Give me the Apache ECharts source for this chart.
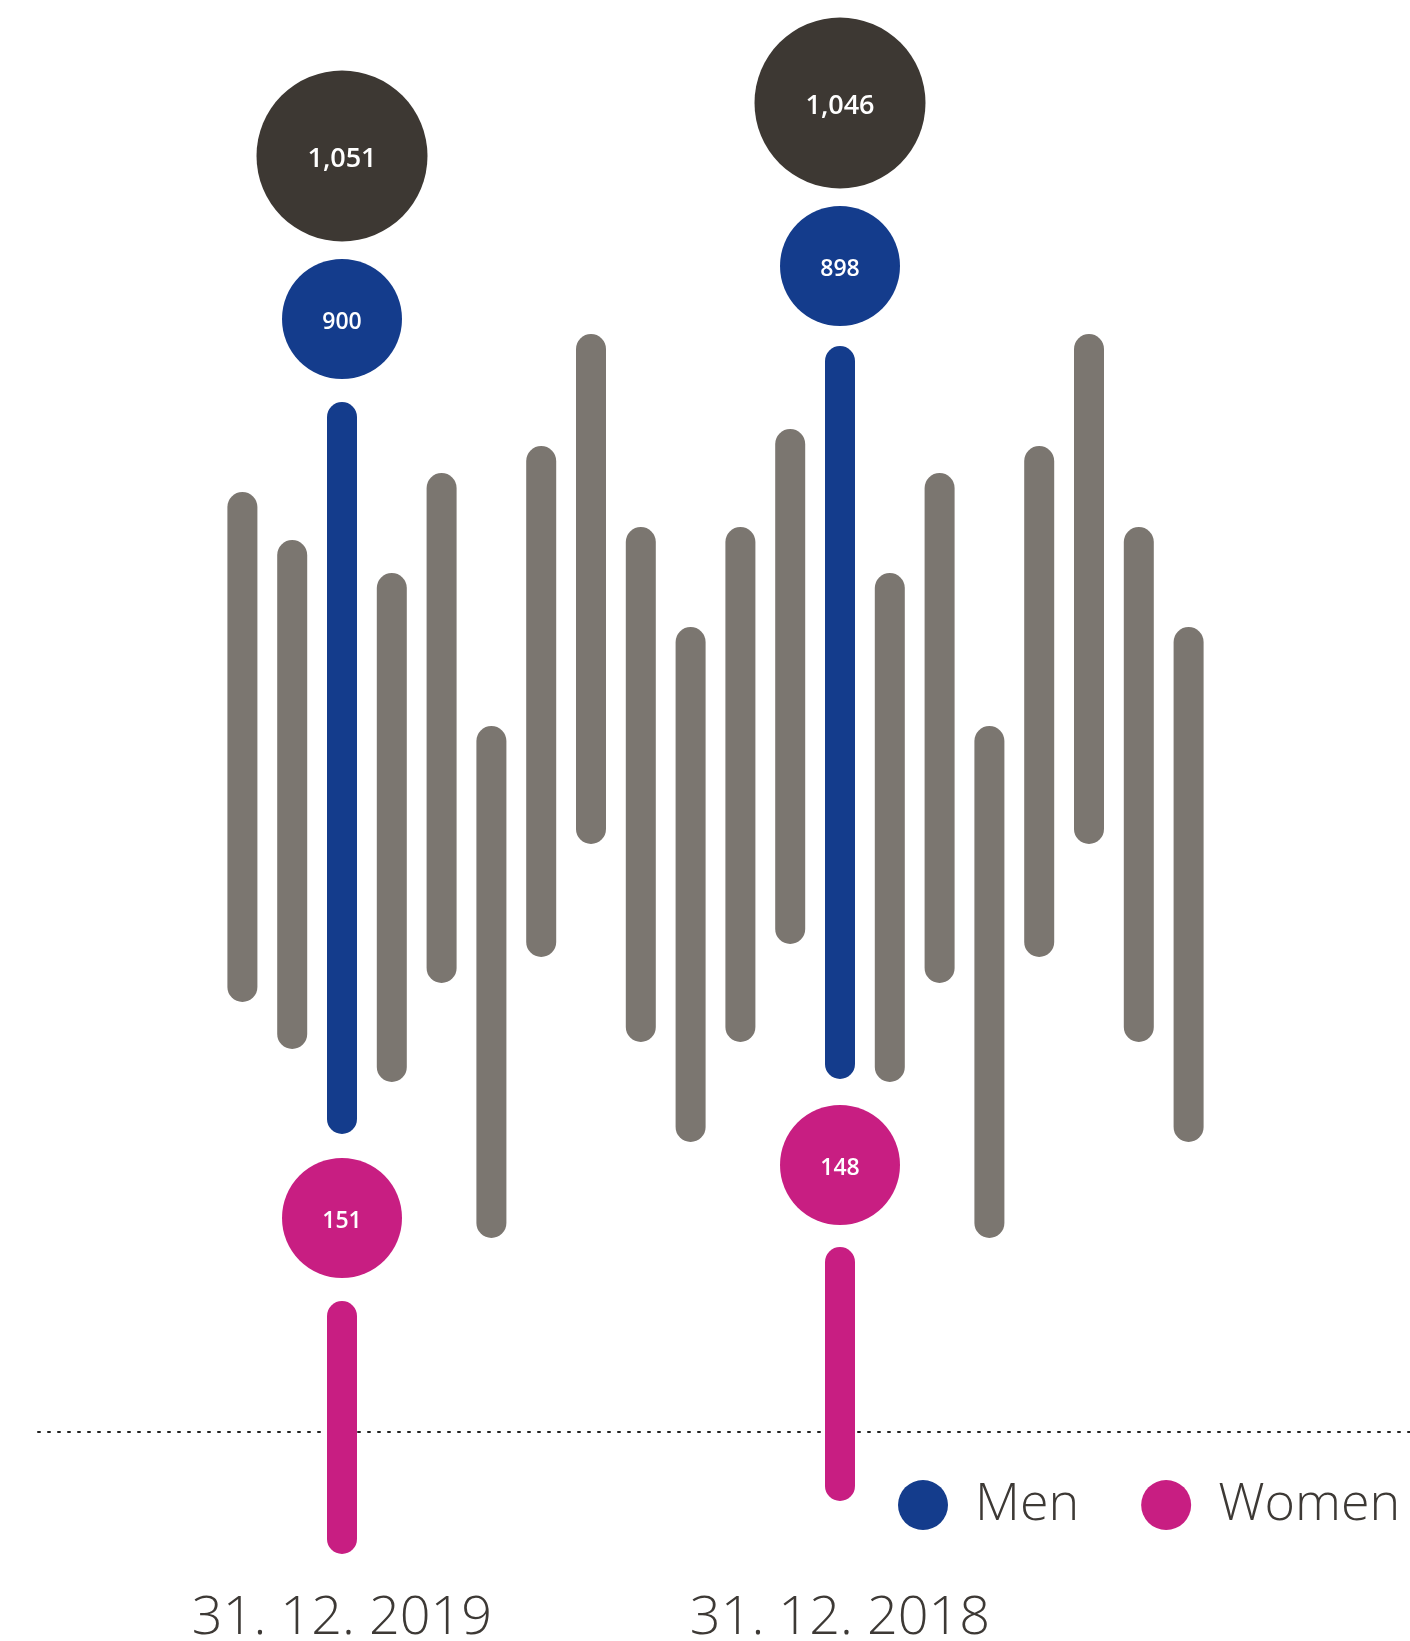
<!DOCTYPE html>
<html>
<head>
<meta charset="utf-8">
<title>Employees</title>
<script src="https://cdn.jsdelivr.net/npm/echarts@6.0.0/dist/echarts.min.js"></script>
<style>
  html, body { margin: 0; padding: 0; background: #fff; }
  #chart { width: 1410px; height: 1641px; }
</style>
</head>
<body>
<div id="chart"></div>
<script>
// slots along the x axis, the two dated columns sit at slot 2 and 12
const slotCount = 20
const dateLabels = ['31. 12. 2019', '31. 12. 2018']
const dateSlots = [2, 12]

// head counts
const totals = [1051, 1046]
const men = [900, 898]
const women = [151, 148]

// vertical placement (axis runs top -> bottom)
const totalY = [156, 103]
const menY = [319, 266]
const womenY = [1218, 1165]
const menBarTop = [402, 346]
const menBarBottom = [1134, 1079]
const womenBarTop = [1301, 1247]
const womenBarBottom = [1554, 1501]

// decorative grey bars, null where a dated column stands
const greyTop = [492, 540, null, 573, 473, 726, 446, 334, 527, 627, 527, 429, null, 573, 473, 726, 446, 334, 527, 627]
const greyBottom = [1002, 1049, null, 1082, 983, 1238, 957, 844, 1042, 1142, 1042, 944, null, 1082, 983, 1238, 957, 844, 1042, 1142]

const GREY = '#7b7670'
const BLUE = '#143c8c'
const PINK = '#c81e82'
const DARK = '#3d3833'
const TEXT = '#3d3935'
const LABEL_FONT = "'Open Sans', sans-serif"

const categories = []
for (let i = 0; i < slotCount; i++) {
  const k = dateSlots.indexOf(i)
  categories.push(k >= 0 ? dateLabels[k] : '')
}

const greyData = []
greyTop.forEach((t, i) => {
  if (t != null) greyData.push([i, t, greyBottom[i]])
})
const menBars = dateSlots.map((s, i) => [s, menBarTop[i], menBarBottom[i]])
const womenBars = dateSlots.map((s, i) => [s, womenBarTop[i], womenBarBottom[i]])
const totalPts = dateSlots.map((s, i) => [s, totalY[i], totals[i]])
const menPts = dateSlots.map((s, i) => [s, menY[i], men[i]])
const womenPts = dateSlots.map((s, i) => [s, womenY[i], women[i]])

// rounded vertical bar between two values
function pillBar(color) {
  return function (params, api) {
    const p1 = api.coord([api.value(0), api.value(1)])
    const p2 = api.coord([api.value(0), api.value(2)])
    const w = 30
    return {
      type: 'rect',
      shape: { x: p1[0] - w / 2, y: p1[1], width: w, height: p2[1] - p1[1], r: w / 2 },
      style: { fill: color },
    }
  }
}

function bubble(name, data, size, color, fontSize) {
  return {
    name: name,
    type: 'scatter',
    xAxisIndex: 0,
    yAxisIndex: 0,
    data: data,
    symbol: 'circle',
    symbolSize: size,
    itemStyle: { color: color, opacity: 1 },
    label: {
      show: true,
      position: 'inside',
      offset: [0, 3],
      color: '#fff',
      fontSize: fontSize,
      fontWeight: 600,
      fontFamily: 'Open Sans',
      formatter: (p) => p.value[2].toLocaleString('en-US'),
    },
    z: 3,
  }
}

const chart = echarts.init(document.getElementById('chart'))

chart.setOption({
  animation: false,
  backgroundColor: '#fff',
  grid: [
    { left: 217.5, width: 996, top: 0, height: 1560, containLabel: false, outerBoundsMode: 'none' },
    // only used for the dotted base line
    { left: 38, right: 0, top: 1000, height: 432, containLabel: false, outerBoundsMode: 'none' },
  ],
  xAxis: [
    {
      type: 'category',
      gridIndex: 0,
      data: categories,
      axisLine: { show: false },
      axisTick: { show: false },
      splitLine: { show: false },
      axisLabel: {
        interval: 0,
        margin: 32,
        fontSize: 54,
        fontWeight: 300,
        fontFamily: LABEL_FONT,
        color: TEXT,
      },
    },
    {
      type: 'value',
      gridIndex: 1,
      min: 0,
      max: 1,
      axisLine: { show: true, lineStyle: { color: '#222', width: 2, type: [2, 8] } },
      axisTick: { show: false },
      axisLabel: { show: false },
      splitLine: { show: false },
    },
  ],
  yAxis: [
    { type: 'value', gridIndex: 0, inverse: true, min: 0, max: 1560, show: false },
    { type: 'value', gridIndex: 1, min: 0, max: 1, show: false },
  ],
  legend: {
    data: ['Men', 'Women'],
    orient: 'horizontal',
    left: 898,
    top: 1479,
    width: 600,
    padding: 0,
    itemWidth: 50,
    itemHeight: 50,
    itemGap: 62,
    icon: 'circle',
    selectedMode: false,
    textStyle: {
      fontSize: 52,
      fontWeight: 300,
      fontFamily: LABEL_FONT,
      color: TEXT,
      padding: [0, 0, 0, 22],
    },
  },
  series: [
    {
      name: 'grey',
      type: 'custom',
      renderItem: pillBar(GREY),
      data: greyData,
      encode: { x: 0, y: [1, 2] },
      itemStyle: { color: GREY },
    },
    {
      name: 'Men',
      type: 'custom',
      renderItem: pillBar(BLUE),
      data: menBars,
      encode: { x: 0, y: [1, 2] },
      itemStyle: { color: BLUE },
    },
    {
      name: 'Women',
      type: 'custom',
      renderItem: pillBar(PINK),
      data: womenBars,
      encode: { x: 0, y: [1, 2] },
      itemStyle: { color: PINK },
    },
    bubble('Total', totalPts, 171, DARK, 27),
    bubble('Men', menPts, 120, BLUE, 23),
    bubble('Women', womenPts, 120, PINK, 23),
  ],
})
</script>
</body>
</html>
